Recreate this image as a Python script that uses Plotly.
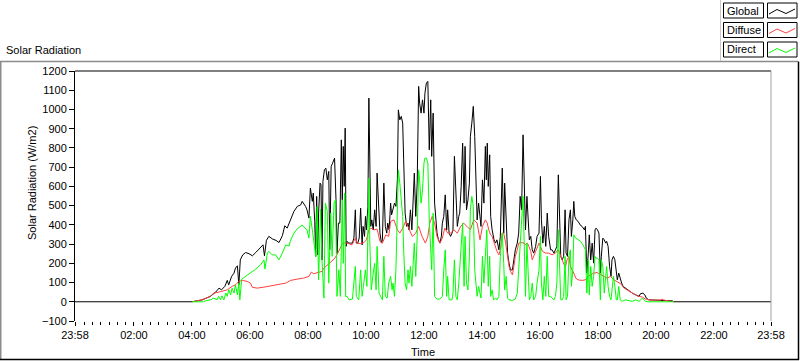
import plotly.graph_objects as go

# ---------------- data (time in minutes after midnight) ----------------
global_t = [-2, 240, 261, 278, 289, 296, 301, 308, 313, 316, 322, 327, 330, 334, 337, 340, 345, 351, 358, 365,
            372, 380, 387, 390, 394, 399, 407, 414, 420, 427, 432, 437, 444, 451, 458, 465, 468, 471, 475, 478,
            482, 485, 489, 491, 494, 496, 498, 500, 502, 505, 507, 509, 511, 514, 517, 520, 523, 525, 528, 531,
            535, 538, 540, 543, 546, 549, 551, 553, 555, 557, 559, 561, 564, 568, 572, 575, 578, 580, 583, 586,
            589, 592, 594, 597, 599, 601, 604, 606, 608, 610, 612, 615, 618, 621, 623, 626, 629, 632, 634, 637,
            640, 643, 645, 648, 651, 653, 656, 659, 662, 665, 667, 670, 673, 676, 678, 681, 684, 687, 689, 692,
            695, 698, 700, 703, 706, 709, 711, 714, 717, 720, 722, 725, 728, 731, 734, 736, 739, 742, 745, 747,
            750, 753, 756, 758, 761, 764, 767, 769, 772, 775, 778, 780, 783, 786, 789, 792, 794, 797, 800, 803,
            805, 808, 811, 814, 816, 819, 822, 825, 827, 830, 833, 836, 838, 841, 844, 847, 849, 851, 853, 856,
            858, 861, 865, 868, 871, 875, 878, 882, 885, 887, 890, 893, 896, 899, 903, 906, 909, 913, 916, 919,
            922, 925, 928, 930, 933, 936, 938, 941, 944, 947, 951, 954, 958, 961, 963, 966, 969, 972, 975, 978,
            982, 985, 989, 992, 995, 998, 1001, 1003, 1006, 1009, 1012, 1014, 1017, 1020, 1023, 1025, 1028, 1030, 1032, 1035,
            1039, 1043, 1047, 1052, 1054, 1057, 1060, 1062, 1065, 1068, 1071, 1074, 1076, 1079, 1082, 1085, 1087, 1090, 1093, 1096,
            1098, 1101, 1104, 1107, 1109, 1112, 1115, 1118, 1120, 1123, 1126, 1129, 1132, 1137, 1144, 1151, 1158, 1165, 1168, 1173,
            1177, 1180, 1185, 1199, 1234, 1237, 1438]
global_v = [0, 0, 10, 28, 50, 71, 62, 80, 111, 88, 132, 149, 175, 187, 88, 218, 244, 256, 250, 239,
            256, 279, 296, 239, 319, 340, 326, 319, 308, 343, 395, 383, 426, 470, 496, 504, 522, 513, 496, 478,
            435, 591, 522, 565, 418, 236, 548, 244, 461, 617, 608, 218, 626, 686, 695, 634, 678, 270, 704, 721,
            747, 530, 253, 409, 409, 842, 530, 808, 600, 903, 288, 314, 305, 305, 305, 331, 478, 305, 305, 331,
            487, 296, 392, 340, 444, 374, 496, 1059, 790, 392, 426, 374, 478, 392, 669, 461, 357, 305, 322, 617,
            392, 357, 409, 374, 513, 452, 478, 513, 496, 634, 998, 946, 964, 929, 738, 461, 392, 409, 374, 478,
            374, 548, 669, 444, 617, 1120, 1033, 981, 1050, 981, 1085, 1137, 1146, 790, 1050, 756, 981, 513, 409, 357,
            322, 305, 340, 409, 444, 556, 374, 478, 357, 340, 357, 374, 756, 513, 392, 444, 461, 600, 825, 513,
            808, 478, 530, 617, 860, 929, 1016, 860, 652, 426, 513, 409, 392, 634, 513, 808, 634, 825, 600, 764,
            444, 374, 322, 305, 322, 270, 340, 695, 357, 617, 426, 253, 201, 165, 166, 218, 270, 305, 357, 548,
            478, 868, 513, 374, 548, 426, 322, 340, 270, 253, 288, 340, 357, 652, 426, 305, 392, 288, 461, 340,
            270, 270, 253, 270, 288, 660, 322, 236, 218, 236, 478, 253, 236, 426, 478, 340, 426, 522, 444, 426,
            418, 400, 392, 374, 392, 149, 253, 348, 218, 305, 201, 374, 383, 374, 357, 149, 236, 331, 322, 305,
            314, 288, 184, 132, 218, 236, 218, 132, 114, 149, 114, 97, 80, 71, 54, 45, 36, 28, 42, 45,
            36, 19, 10, 9, 5, 0, 0]

diffuse_t = [240, 261, 278, 285, 292, 302, 313, 323, 330, 337, 344, 354, 361, 365, 375, 389, 399, 410, 423, 434,
             444, 458, 471, 482, 487, 492, 502, 509, 513, 520, 527, 534, 540, 546, 551, 558, 565, 571, 578, 582,
             589, 596, 601, 606, 610, 616, 623, 629, 634, 641, 647, 651, 658, 665, 670, 676, 682, 689, 696, 703,
             709, 716, 723, 728, 732, 737, 742, 747, 753, 758, 763, 769, 775, 782, 789, 796, 802, 809, 816, 823,
             830, 836, 841, 847, 851, 854, 858, 861, 865, 868, 871, 875, 878, 882, 885, 889, 892, 896, 899, 903,
             906, 909, 913, 916, 920, 923, 927, 930, 934, 937, 941, 944, 947, 951, 954, 958, 961, 965, 972, 978,
             985, 992, 998, 1003, 1006, 1010, 1013, 1016, 1020, 1023, 1027, 1030, 1034, 1039, 1047, 1054, 1060, 1065, 1071, 1078,
             1085, 1092, 1099, 1106, 1113, 1120, 1127, 1134, 1140, 1151, 1161, 1172, 1178, 1189, 1210, 1213, 1216, 1237]
diffuse_v = [0, 10, 28, 45, 48, 54, 62, 80, 88, 106, 111, 106, 97, 75, 71, 76, 80, 83, 92, 97,
             111, 118, 123, 132, 154, 146, 154, 158, 175, 192, 210, 222, 244, 279, 302, 308, 302, 296, 330, 305,
             302, 308, 322, 374, 383, 374, 378, 314, 305, 348, 340, 418, 426, 374, 357, 383, 418, 374, 340, 357,
             392, 340, 305, 340, 409, 444, 409, 340, 305, 331, 383, 357, 357, 374, 357, 392, 409, 392, 374, 426,
             409, 322, 392, 426, 409, 374, 348, 340, 305, 288, 262, 244, 270, 357, 357, 305, 244, 184, 158, 140,
             184, 236, 270, 305, 308, 305, 305, 296, 305, 288, 262, 218, 236, 262, 288, 305, 288, 262, 253, 253,
             244, 253, 270, 230, 218, 192, 184, 218, 236, 184, 166, 149, 123, 114, 111, 114, 132, 140, 149, 152,
             140, 132, 123, 132, 114, 106, 94, 71, 62, 45, 31, 24, 14, 9, 9, 14, 9, 0]

direct_t = [240, 264, 268, 278, 285, 292, 295, 299, 302, 306, 310, 313, 316, 320, 323, 327, 330, 334, 337, 339,
            343, 351, 361, 372, 382, 389, 391, 396, 399, 406, 413, 420, 427, 434, 441, 444, 451, 458, 465, 468,
            471, 478, 482, 485, 489, 492, 496, 499, 502, 506, 509, 513, 516, 520, 523, 527, 530, 534, 537, 540,
            544, 547, 551, 553, 556, 558, 561, 565, 572, 578, 580, 585, 589, 592, 596, 599, 602, 606, 608, 611,
            615, 618, 621, 623, 627, 630, 634, 637, 640, 644, 647, 651, 654, 656, 659, 662, 665, 667, 670, 673,
            676, 678, 681, 684, 687, 689, 692, 695, 698, 700, 703, 706, 709, 711, 714, 717, 720, 722, 725, 728,
            731, 734, 736, 739, 742, 745, 747, 753, 758, 761, 764, 767, 769, 772, 778, 780, 783, 786, 789, 792,
            794, 797, 800, 803, 805, 808, 811, 814, 816, 819, 822, 825, 827, 830, 833, 836, 838, 841, 844, 847,
            850, 853, 856, 858, 861, 864, 868, 871, 875, 878, 882, 885, 887, 890, 893, 896, 903, 909, 913, 916,
            919, 922, 925, 928, 930, 933, 936, 938, 941, 944, 947, 951, 954, 958, 961, 963, 966, 969, 972, 975,
            978, 982, 985, 989, 992, 995, 998, 1001, 1003, 1006, 1009, 1012, 1014, 1017, 1020, 1023, 1025, 1028, 1030, 1034,
            1039, 1044, 1049, 1054, 1057, 1060, 1062, 1065, 1068, 1071, 1074, 1076, 1079, 1082, 1085, 1087, 1090, 1093, 1096, 1098,
            1101, 1104, 1107, 1109, 1112, 1115, 1118, 1120, 1123, 1126, 1130, 1137, 1151, 1158, 1165, 1172, 1178, 1185, 1237]
direct_v = [0, 0, 5, 10, 19, 10, 28, 10, 31, 10, 45, 28, 62, 36, 71, 45, 88, 36, 97, 10,
            118, 132, 149, 170, 192, 218, 170, 253, 262, 244, 244, 218, 253, 296, 290, 320, 357, 380, 392, 400,
            390, 374, 331, 444, 374, 305, 236, 496, 114, 480, 218, 19, 513, 470, 97, 461, 236, 513, 530, 28,
            166, 28, 530, 200, 565, 28, 28, 10, 14, 184, 28, 10, 166, 28, 97, 166, 80, 643, 305, 62,
            149, 200, 62, 288, 45, 28, 10, 236, 28, 19, 97, 132, 62, 97, 28, 166, 444, 686, 617, 548,
            444, 270, 97, 62, 166, 97, 184, 80, 218, 305, 132, 340, 686, 634, 513, 582, 721, 747, 747, 721,
            426, 288, 166, 461, 28, 19, 14, 14, 28, 166, 270, 28, 132, 10, 10, 45, 218, 28, 10, 97,
            166, 288, 409, 80, 340, 97, 62, 236, 478, 548, 496, 166, 97, 28, 80, 28, 19, 236, 97, 236,
            374, 80, 236, 28, 62, 10, 19, 10, 28, 236, 357, 200, 62, 132, 19, 10, 7, 14, 45, 166,
            288, 444, 548, 236, 28, 305, 97, 10, 28, 97, 10, 28, 97, 166, 340, 97, 10, 132, 28, 236,
            28, 28, 19, 10, 28, 97, 374, 97, 10, 10, 28, 236, 10, 28, 236, 270, 80, 166, 348, 331,
            322, 314, 296, 270, 45, 218, 36, 184, 80, 132, 236, 227, 227, 218, 10, 218, 184, 45, 132, 184,
            80, 28, 10, 80, 132, 80, 10, 10, 80, 10, 2, 10, 2, 10, 2, 19, 2, 0, 0]

x_tickvals = [-2, 120, 240, 360, 480, 600, 720, 840, 960, 1080, 1200, 1320, 1438]
x_ticktext = ["23:58", "02:00", "04:00", "06:00", "08:00", "10:00", "12:00", "14:00", "16:00",
              "18:00", "20:00", "22:00", "23:58"]
x_minor = [120 * i / 7 for i in range(0, 84)]
y_tickvals = list(range(-100, 1201, 100))

series_names = ["Global", "Diffuse", "Direct"]
series_colors = ["#000000", "#ff4040", "#00ff00"]

FONT = "Liberation Sans"

# ---------------- figure ----------------
fig = go.Figure()
for name, t, v, c in zip(series_names, [global_t, diffuse_t, direct_t],
                         [global_v, diffuse_v, direct_v], series_colors):
    fig.add_trace(go.Scatter(x=t, y=v, mode="lines", name=name,
                             line=dict(color=c, width=1), showlegend=False, hoverinfo="skip"))

L, R, T, B = 75, 771, 71, 321
W, H = 800, 361


def PX(x):
    return (x - L) / (R - L)


def PY(y):
    return (B - y) / (B - T)


shapes = []
# outer frame
shapes.append(dict(type="line", xref="paper", yref="paper", x0=PX(0), x1=PX(798), y0=PY(61.5), y1=PY(61.5),
                   line=dict(color="#8c8c8c", width=1.5)))
shapes.append(dict(type="line", xref="paper", yref="paper", x0=PX(0.75), x1=PX(0.75), y0=PY(61.5), y1=PY(360),
                   line=dict(color="#8c8c8c", width=1.5)))
shapes.append(dict(type="line", xref="paper", yref="paper", x0=PX(0), x1=PX(799), y0=PY(359.5), y1=PY(359.5),
                   line=dict(color="#000000", width=1.5)))
shapes.append(dict(type="line", xref="paper", yref="paper", x0=PX(798.5), x1=PX(798.5), y0=PY(61.5), y1=PY(360),
                   line=dict(color="#000000", width=1.5)))
# legend panel border
shapes.append(dict(type="line", xref="paper", yref="paper", x0=PX(720.5), x1=PX(720.5), y0=PY(0), y1=PY(61),
                   line=dict(color="#c8c8c8", width=1)))
# plot area borders
shapes.append(dict(type="line", xref="paper", yref="paper", x0=0, x1=1, y0=1, y1=1,
                   line=dict(color="#000000", width=1.2)))
shapes.append(dict(type="line", xref="paper", yref="paper", x0=1, x1=1, y0=0, y1=1,
                   line=dict(color="#a0a0a0", width=1)))

annotations = []
rows = [(3, 18), (22.5, 37.5), (42, 57)]
for (y0, y1), name, c in zip(rows, series_names, series_colors):
    shapes.append(dict(type="rect", xref="paper", yref="paper", x0=PX(723.5), x1=PX(763.5),
                       y0=PY(y1), y1=PY(y0), line=dict(color="#000000", width=1), fillcolor="white"))
    shapes.append(dict(type="rect", xref="paper", yref="paper", x0=PX(767.5), x1=PX(797),
                       y0=PY(y1), y1=PY(y0), line=dict(color="#000000", width=1), fillcolor="white"))
    pts = [(769, y0 + 11), (777, y0 + 6.5), (786, y0 + 10.5), (795, y0 + 6)]
    path = "M " + " L ".join(f"{PX(px):.5f},{PY(py):.5f}" for px, py in pts)
    shapes.append(dict(type="path", xref="paper", yref="paper", path=path, line=dict(color=c, width=1)))
    annotations.append(dict(text=name, xref="paper", yref="paper", x=PX(725), y=PY((y0 + y1) / 2),
                            xanchor="left", yanchor="middle", showarrow=False,
                            font=dict(family=FONT, size=11, color="black")))

annotations.append(dict(text="Solar Radiation", xref="paper", yref="paper", x=PX(4), y=PY(50),
                        xanchor="left", yanchor="middle", showarrow=False,
                        font=dict(family=FONT, size=11, color="black")))
annotations.append(dict(text="Solar Radiation (W/m2)", xref="paper", yref="paper", x=PX(32), y=PY(183),
                        xanchor="center", yanchor="middle", textangle=-90, showarrow=False,
                        font=dict(family=FONT, size=11, color="black")))
annotations.append(dict(text="Time", xref="paper", yref="paper", x=PX(423), y=PY(352),
                        xanchor="center", yanchor="middle", showarrow=False,
                        font=dict(family=FONT, size=11, color="black")))

fig.update_layout(
    width=W, height=H,
    margin=dict(l=L, r=W - R, t=T, b=H - B, pad=0),
    paper_bgcolor="white", plot_bgcolor="white",
    font=dict(family=FONT, size=11, color="black"),
    shapes=shapes, annotations=annotations,
    showlegend=False,
    xaxis=dict(range=[-2, 1438], tickmode="array", tickvals=x_tickvals, ticktext=x_ticktext,
               ticks="outside", ticklen=4, tickcolor="black", tickwidth=1,
               showgrid=False, zeroline=False, showline=False,
               minor=dict(tickmode="array", tickvals=x_minor, ticks="outside", ticklen=3,
                          tickcolor="black", tickwidth=1, showgrid=False),
               tickfont=dict(family=FONT, size=11, color="black")),
    yaxis=dict(range=[-100, 1200], tickmode="array", tickvals=y_tickvals,
               ticks="outside", ticklen=5, tickcolor="black", tickwidth=1,
               showgrid=False, zeroline=False, showline=True, linecolor="black", linewidth=1,
               tickfont=dict(family=FONT, size=11, color="black")),
)

fig.write_html("out.html", config={"displayModeBar": False, "staticPlot": True},
               post_script="document.body.style.margin='0';document.body.style.overflow='hidden';")
